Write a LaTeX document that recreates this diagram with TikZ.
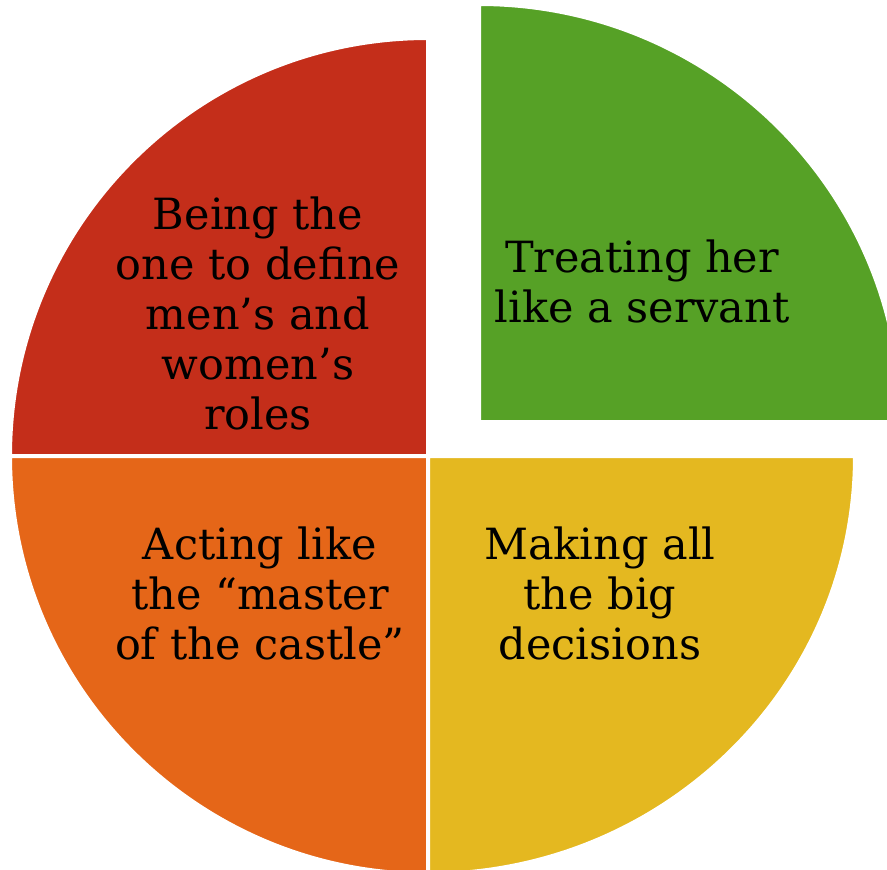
\documentclass[tikz,border=0pt]{standalone}
\usepackage{fontspec}
\setmainfont{DejaVu Serif}
\definecolor{slicered}{RGB}{196,46,26}
\definecolor{slicegreen}{RGB}{86,161,38}
\definecolor{sliceorange}{RGB}{229,102,24}
\definecolor{sliceyellow}{RGB}{228,184,32}
\tikzset{
  slice/.style={draw=white, line width=2pt},
  label/.style={align=center, text=black, font=\fontsize{21.5}{25}\selectfont}
}
\begin{document}
\begin{tikzpicture}[x=0.5pt, y=0.5pt]
  \clip (0,0) rectangle (887,869);
  \coordinate (c) at (428,413);
  \coordinate (g) at (479,447);
  \filldraw[slice, fill=slicered] (c) -- ++(-418,0) arc[start angle=180, end angle=90, radius=418] -- cycle;
  \filldraw[slice, fill=sliceorange] (c) -- ++(0,-418) arc[start angle=270, end angle=180, radius=418] -- cycle;
  \filldraw[slice, fill=sliceyellow] (c) -- ++(427,0) arc[start angle=0, end angle=-90, x radius=427, y radius=418] -- cycle;
  \filldraw[slice, fill=slicegreen] (g) -- ++(0,418) arc[start angle=90, end angle=0, x radius=422, y radius=418] -- cycle;
  \node[label] (roles) at (258,556) {Being the\\one to define\\men’s and\\women’s\\roles};
  \node[label] (servant) at (642,588) {Treating her\\like a servant};
  \node[label] (master) at (260,276) {Acting like\\the “master\\of the castle”};
  \node[label] (decisions) at (600,276) {Making all\\the big\\decisions};
\end{tikzpicture}
\end{document}
